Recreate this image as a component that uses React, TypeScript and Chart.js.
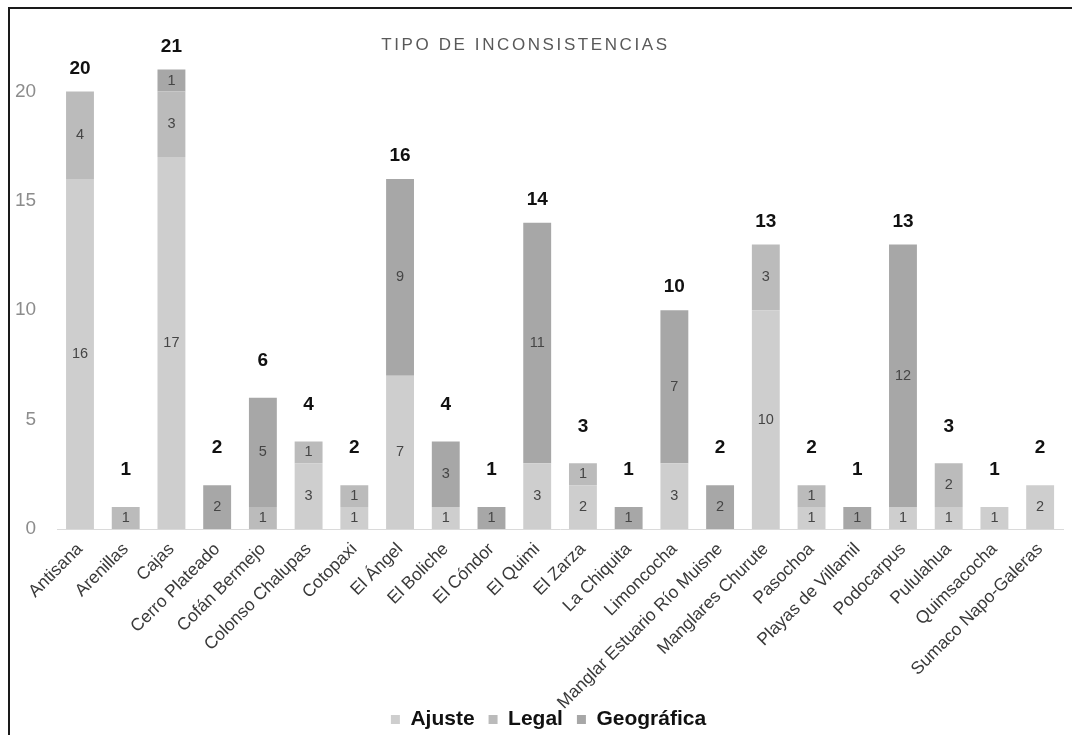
import React, { useEffect, useRef } from "react";
import { Chart, registerables } from "chart.js";

Chart.register(...registerables);

const categories = [
  "Antisana", "Arenillas", "Cajas", "Cerro Plateado", "Cofán Bermejo", "Colonso Chalupas",
  "Cotopaxi", "El Ángel", "El Boliche", "El Cóndor", "El Quimi", "El Zarza", "La Chiquita",
  "Limoncocha", "Manglar Estuario Río Muisne", "Manglares Churute", "Pasochoa",
  "Playas de Villamil", "Podocarpus", "Pululahua", "Quimsacocha", "Sumaco Napo-Galeras",
];

const ajuste = [16, 0, 17, 0, 0, 3, 1, 7, 1, 0, 3, 2, 0, 3, 0, 10, 1, 0, 1, 1, 1, 2];
const legal = [4, 1, 3, 0, 1, 1, 1, 0, 0, 0, 0, 1, 0, 0, 0, 3, 1, 0, 0, 2, 0, 0];
const geografica = [0, 0, 1, 2, 5, 0, 0, 9, 3, 1, 11, 0, 1, 7, 2, 0, 0, 1, 12, 0, 0, 0];

const seriesNames = ["Ajuste", "Legal", "Geográfica"];
const yTicks = [0, 5, 10, 15, 20];
const chartTitle = "TIPO DE INCONSISTENCIAS";

const FONT = "'Liberation Sans', Arial, sans-serif";

const labelsPlugin = {
  id: "stackLabels",
  afterLayout(chart: any) {
    if (chart.legend) {
      chart.legend.left += 20;
      chart.legend.right += 20;
    }
    const xs = chart.scales.x;
    if (xs) xs.bottom += 40;
  },
  afterDatasetsDraw(chart: any) {
    const ctx = chart.ctx;
    ctx.save();
    ctx.textAlign = "center";
    ctx.textBaseline = "middle";
    ctx.font = `14.5px ${FONT}`;
    ctx.fillStyle = "#454545";
    chart.data.datasets.forEach((ds: any, di: number) => {
      const meta = chart.getDatasetMeta(di);
      meta.data.forEach((el: any, i: number) => {
        const v = ds.data[i];
        if (!v) return;
        ctx.fillText(String(v), el.x, (el.y + el.base) / 2);
      });
    });
    ctx.font = `bold 19px ${FONT}`;
    ctx.fillStyle = "#111111";
    const yScale = chart.scales.y;
    const xScale = chart.scales.x;
    categories.forEach((_, i) => {
      const total = chart.data.datasets.reduce((s: number, ds: any) => s + (ds.data[i] || 0), 0);
      const top = yScale.getPixelForValue(total);
      const off = total >= 10 ? 23 : 37;
      ctx.fillText(String(total), xScale.getPixelForValue(i), top - off);
    });
    ctx.font = `17px ${FONT}`;
    ctx.fillStyle = "#595959";
    (ctx as any).letterSpacing = "2.6px";
    ctx.fillText(chartTitle, chart.width / 2 - 14, 45);
    ctx.restore();
  },
};

export default function App() {
  const ref = useRef<HTMLCanvasElement | null>(null);
  useEffect(() => {
    if (!ref.current) return;
    const chart = new Chart(ref.current, {
      type: "bar",
      data: {
        labels: categories,
        datasets: [
          { label: seriesNames[0], data: ajuste, backgroundColor: "#cecece" },
          { label: seriesNames[1], data: legal, backgroundColor: "#bbbbbb" },
          { label: seriesNames[2], data: geografica, backgroundColor: "#a7a7a7" },
        ],
      },
      options: {
        animation: false,
        responsive: true,
        maintainAspectRatio: false,
        layout: { padding: { top: 2, right: 16, bottom: -5, left: -6 } },
        datasets: { bar: { categoryPercentage: 1, barPercentage: 0.61 } },
        plugins: {
          legend: {
            position: "bottom",
            labels: {
              font: { family: FONT, size: 21, weight: "bold" },
              color: "#111111",
              boxWidth: 9,
              boxHeight: 9,
              padding: 14,
            },
          },
          title: { display: false },
          tooltip: { enabled: false },
        },
        scales: {
          x: {
            stacked: true,
            grid: { display: false },
            border: { display: true, color: "#dadada" },
            ticks: {
              minRotation: 45,
              maxRotation: 45,
              autoSkip: false,
              font: { family: FONT, size: 17.5 },
              color: "#3a3a3a",
              padding: 2,
            },
            afterFit: (scale: any) => {
              scale.height = 166;
            },
          },
          y: {
            stacked: true,
            min: 0,
            max: 22.7,
            grid: { display: false, drawTicks: false },
            border: { display: false },
            afterBuildTicks: (scale: any) => {
              scale.ticks = yTicks.map((v) => ({ value: v }));
            },
            ticks: {
              font: { family: FONT, size: 19 },
              color: "#8c8c8c",
              padding: 21,
            },
          },
        },
      },
      plugins: [labelsPlugin],
    });
    return () => chart.destroy();
  }, []);

  return (
    <div style={{ position: "absolute", left: 0, top: 0, width: 1079, height: 735, background: "#fff", overflow: "hidden" }}>
      <canvas ref={ref} />
      <div
        style={{
          position: "absolute",
          left: 8,
          top: 7,
          width: 1062,
          height: 740,
          borderLeft: "2px solid #1a1a1a",
          borderTop: "2px solid #1a1a1a",
          pointerEvents: "none",
        }}
      />
    </div>
  );
}
